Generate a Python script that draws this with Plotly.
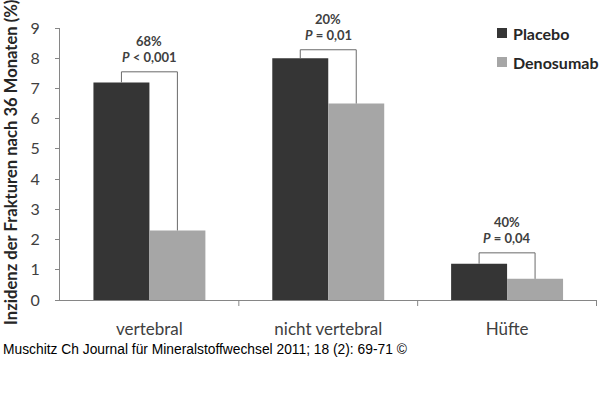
import plotly.graph_objects as go

categories = ["vertebral", "nicht vertebral", "Hüfte"]
placebo = [7.2, 8.0, 1.2]
denosumab = [2.3, 6.5, 0.7]
reduction = ["68%", "20%", "40%"]
pvalues = ["<i>P</i> < 0,001", "<i>P</i> = 0,01", "<i>P</i> = 0,04"]
series_names = ["Placebo", "Denosumab"]
series_colors = ["#353535", "#a6a6a6"]
y_ticks = [0, 1, 2, 3, 4, 5, 6, 7, 8, 9]

FONT = "Lato"
W, H = 600, 397
L, R, T, B = 60, 3, 28, 97
PW, PH = W - L - R, H - T - B
bargap = 0.374
half = (1 - bargap) / 4  # offset of each bar center from the category center


def px_x(px):
    return (px - L) / PW


def px_y(py):
    return (H - B - py) / PH


fig = go.Figure()
for name, vals, col in zip(series_names, [placebo, denosumab], series_colors):
    fig.add_trace(go.Bar(x=categories, y=vals, name=name, hoverinfo="skip",
                         marker=dict(color=col, line=dict(width=0)), showlegend=False))

shapes = []
annotations = []
bracket_pad = [0.35, 0.28, 0.36]
for i, (p, d) in enumerate(zip(placebo, denosumab)):
    top = max(p, d) + bracket_pad[i]
    xl, xr = i - half, i + half
    shapes.append(dict(type="path", xref="x", yref="y",
                       path=f"M {xl},{p} L {xl},{top} L {xr},{top} L {xr},{d}",
                       line=dict(color="#6a6a6a", width=1)))
    annotations.append(dict(x=i, y=top, xref="x", yref="y", yshift=31,
                            text=f"<b>{reduction[i]}</b>", showarrow=False,
                            font=dict(family=FONT, size=13, color="#404040")))
    annotations.append(dict(x=i, y=top, xref="x", yref="y", yshift=15,
                            text=f"<b>{pvalues[i]}</b>", showarrow=False,
                            font=dict(family=FONT, size=13, color="#404040")))

# manual legend
legend_rows_y = [33, 62]
for name, col, ly in zip(series_names, series_colors, legend_rows_y):
    shapes.append(dict(type="rect", xref="paper", yref="paper",
                       x0=px_x(497), x1=px_x(507), y0=px_y(ly - 5), y1=px_y(ly + 5),
                       fillcolor=col, line=dict(width=0)))
    annotations.append(dict(x=px_x(511), y=px_y(ly), xref="paper", yref="paper",
                            text=f"<b>{name}</b>", showarrow=False,
                            xanchor="left", yanchor="middle",
                            font=dict(family=FONT, size=16, color="#262626")))

annotations.append(dict(x=px_x(11), y=px_y(163), xref="paper", yref="paper",
                        xanchor="center", yanchor="middle",
                        text="<b>Inzidenz der Frakturen nach 36 Monaten (%)</b>",
                        textangle=-90, showarrow=False,
                        font=dict(family=FONT, size=16.6, color="#262626")))
annotations.append(dict(x=px_x(1), y=px_y(349), xref="paper", yref="paper",
                        text="Muschitz Ch Journal für Mineralstoffwechsel 2011; 18 (2): 69-71 ©",
                        showarrow=False, xanchor="left", yanchor="middle",
                        font=dict(family="Liberation Sans", size=13.8, color="#000000")))

# category boundary tick marks on the x axis
for b in [0.5, 1.5, 2.5]:
    shapes.append(dict(type="line", xref="x", yref="paper", x0=b, x1=b,
                       y0=0, y1=px_y(H - B + 6), line=dict(color="#868686", width=1)))

fig.update_layout(
    width=W, height=H,
    margin=dict(l=L, r=R, t=T, b=B, autoexpand=False),
    paper_bgcolor="white", plot_bgcolor="white",
    barmode="group", bargap=bargap, bargroupgap=0,
    showlegend=False, hovermode=False,
    font=dict(family=FONT),
    shapes=shapes, annotations=annotations,
    xaxis=dict(showline=True, linecolor="#868686", linewidth=1,
               ticks="", tickfont=dict(family=FONT, size=17, color="#404040"),
               ticklabelstandoff=14, showgrid=False, automargin=False),
    yaxis=dict(range=[0, 9], tickvals=y_ticks, showline=True, linecolor="#868686",
               linewidth=1, ticks="outside", ticklen=4, tickcolor="#868686",
               tickfont=dict(family=FONT, size=16, color="#404040"),
               ticklabelstandoff=12, showgrid=False, zeroline=False, automargin=False),
)

fig.write_html("out.html", config={"displayModeBar": False},
               post_script="document.body.style.margin='0';")
